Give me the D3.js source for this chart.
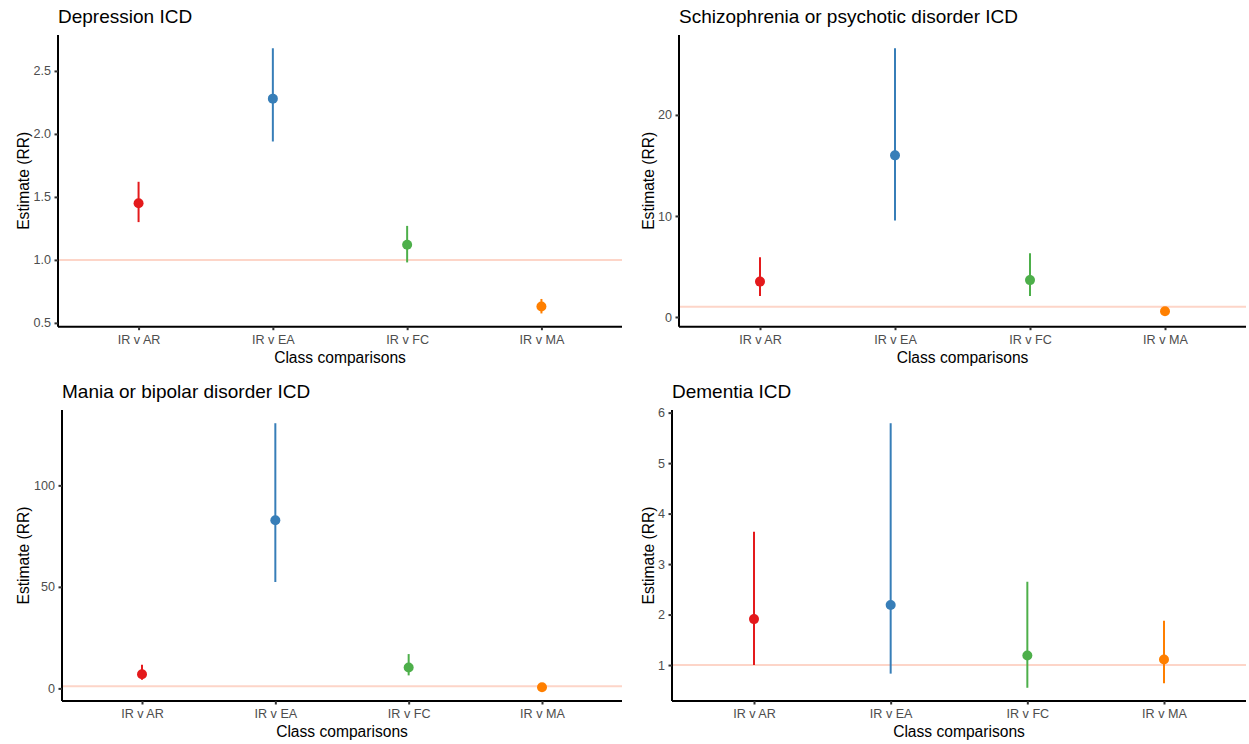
<!DOCTYPE html>
<html>
<head>
<meta charset="utf-8">
<script src="https://cdn.jsdelivr.net/npm/d3@7"></script>
<style>
  html, body { margin: 0; padding: 0; background: #ffffff; }
  svg { display: block; font-family: "Liberation Sans", Arial, Helvetica, sans-serif; }
</style>
</head>
<body>
<svg id="chart" width="1249" height="744"></svg>
<script>
// Class comparisons shared by every panel
const comparisons = ["IR v AR", "IR v EA", "IR v FC", "IR v MA"];
const pointColors = ["#E41A1C", "#377EB8", "#4DAF4A", "#FF7F00"];

// Depression ICD: estimates and 95% intervals (risk ratios)
const depressionEst  = [1.45, 2.28, 1.12, 0.63];
const depressionLow  = [1.30, 1.94, 0.98, 0.575];
const depressionHigh = [1.62, 2.68, 1.27, 0.69];
const depressionTicks = [0.5, 1.0, 1.5, 2.0, 2.5];

// Schizophrenia or psychotic disorder ICD
const schizoEst  = [3.5, 16.0, 3.65, 0.57];
const schizoLow  = [2.08, 9.55, 2.08, 0.35];
const schizoHigh = [5.9, 26.6, 6.3, 0.72];
const schizoTicks = [0, 10, 20];

// Mania or bipolar disorder ICD
const maniaEst  = [7.0, 82.8, 10.3, 0.6];
const maniaLow  = [4.2, 52.4, 6.4, 0.3];
const maniaHigh = [11.6, 130.6, 16.9, 1.1];
const maniaTicks = [0, 50, 100];

// Dementia ICD
const dementiaEst  = [1.91, 2.19, 1.19, 1.11];
const dementiaLow  = [1.0, 0.83, 0.55, 0.64];
const dementiaHigh = [3.64, 5.79, 2.65, 1.88];
const dementiaTicks = [1, 2, 3, 4, 5, 6];

const referenceValue = 1;

const panels = [
  { title: "Depression ICD", est: depressionEst, low: depressionLow, high: depressionHigh,
    ticks: depressionTicks, fmt: d3.format(".1f"), box: { x: 0, y: 0 }, plot: { l: 58, r: 622, t: 35, b: 326.7 } },
  { title: "Schizophrenia or psychotic disorder ICD", est: schizoEst, low: schizoLow, high: schizoHigh,
    ticks: schizoTicks, fmt: d3.format("d"), box: { x: 624.5, y: 0 }, plot: { l: 679, r: 1246, t: 35, b: 326.7 } },
  { title: "Mania or bipolar disorder ICD", est: maniaEst, low: maniaLow, high: maniaHigh,
    ticks: maniaTicks, fmt: d3.format("d"), box: { x: 0, y: 372 }, plot: { l: 62, r: 622, t: 410, b: 701 } },
  { title: "Dementia ICD", est: dementiaEst, low: dementiaLow, high: dementiaHigh,
    ticks: dementiaTicks, fmt: d3.format("d"), box: { x: 624.5, y: 372 }, plot: { l: 672, r: 1246, t: 410, b: 701 } }
];

const svg = d3.select("#chart");

panels.forEach(p => {
  const g = svg.append("g");
  const { l, r, t, b } = p.plot;

  // y range spans all intervals and the reference line, padded 5% each side
  const lo = d3.min([...p.low, referenceValue]);
  const hi = d3.max([...p.high, referenceValue]);
  const pad = (hi - lo) * 0.05;
  const y = d3.scaleLinear().domain([lo - pad, hi + pad]).range([b, t]);
  const x = d3.scalePoint().domain(comparisons).range([l, r]).padding(0.6);

  // reference line at RR = 1
  g.append("line")
    .attr("x1", l).attr("x2", r)
    .attr("y1", y(referenceValue)).attr("y2", y(referenceValue))
    .attr("stroke", "#FDD5C8").attr("stroke-width", 2);

  const rows = comparisons.map((c, i) => ({ c, est: p.est[i], low: p.low[i], high: p.high[i], color: pointColors[i] }));

  // interval segments
  g.selectAll("line.ci").data(rows).enter().append("line")
    .attr("class", "ci")
    .attr("x1", d => x(d.c)).attr("x2", d => x(d.c))
    .attr("y1", d => y(d.low)).attr("y2", d => y(d.high))
    .attr("stroke", d => d.color).attr("stroke-width", 2);

  // point estimates
  g.selectAll("circle.est").data(rows).enter().append("circle")
    .attr("class", "est")
    .attr("cx", d => x(d.c)).attr("cy", d => y(d.est))
    .attr("r", 5)
    .attr("fill", d => d.color);

  // y axis
  const yAxis = g.append("g").attr("transform", `translate(${l},0)`)
    .call(d3.axisLeft(y).tickValues(p.ticks).tickFormat(p.fmt).tickSize(3.5).tickPadding(3.5));
  yAxis.select(".domain").attr("stroke", "#000").attr("stroke-width", 2)
    .attr("d", `M0,${b}V${t}`);
  yAxis.selectAll(".tick line").attr("stroke", "#333333").attr("stroke-width", 2);
  yAxis.selectAll(".tick text").attr("fill", "#4D4D4D").attr("font-size", 12.6)
    .attr("font-family", "Liberation Sans, Arial, sans-serif");

  // x axis
  const xAxis = g.append("g").attr("transform", `translate(0,${b})`)
    .call(d3.axisBottom(x).tickSize(3.5).tickPadding(4.5));
  xAxis.select(".domain").attr("stroke", "#000").attr("stroke-width", 2)
    .attr("d", `M${l},0H${r}`);
  xAxis.selectAll(".tick line").attr("stroke", "#333333").attr("stroke-width", 2);
  xAxis.selectAll(".tick text").attr("fill", "#4D4D4D").attr("font-size", 12.6)
    .attr("font-family", "Liberation Sans, Arial, sans-serif");

  // panel title
  g.append("text")
    .attr("x", l).attr("y", t - 12.5)
    .attr("font-size", 19).attr("fill", "#000")
    .text(p.title);

  // axis titles
  g.append("text")
    .attr("x", (l + r) / 2).attr("y", b + 36)
    .attr("text-anchor", "middle").attr("font-size", 15.6).attr("fill", "#000")
    .text("Class comparisons");

  g.append("text")
    .attr("transform", `translate(${p.box.x + 29},${(t + b) / 2}) rotate(-90)`)
    .attr("text-anchor", "middle").attr("font-size", 15.6).attr("fill", "#000")
    .text("Estimate (RR)");
});
</script>
</body>
</html>
